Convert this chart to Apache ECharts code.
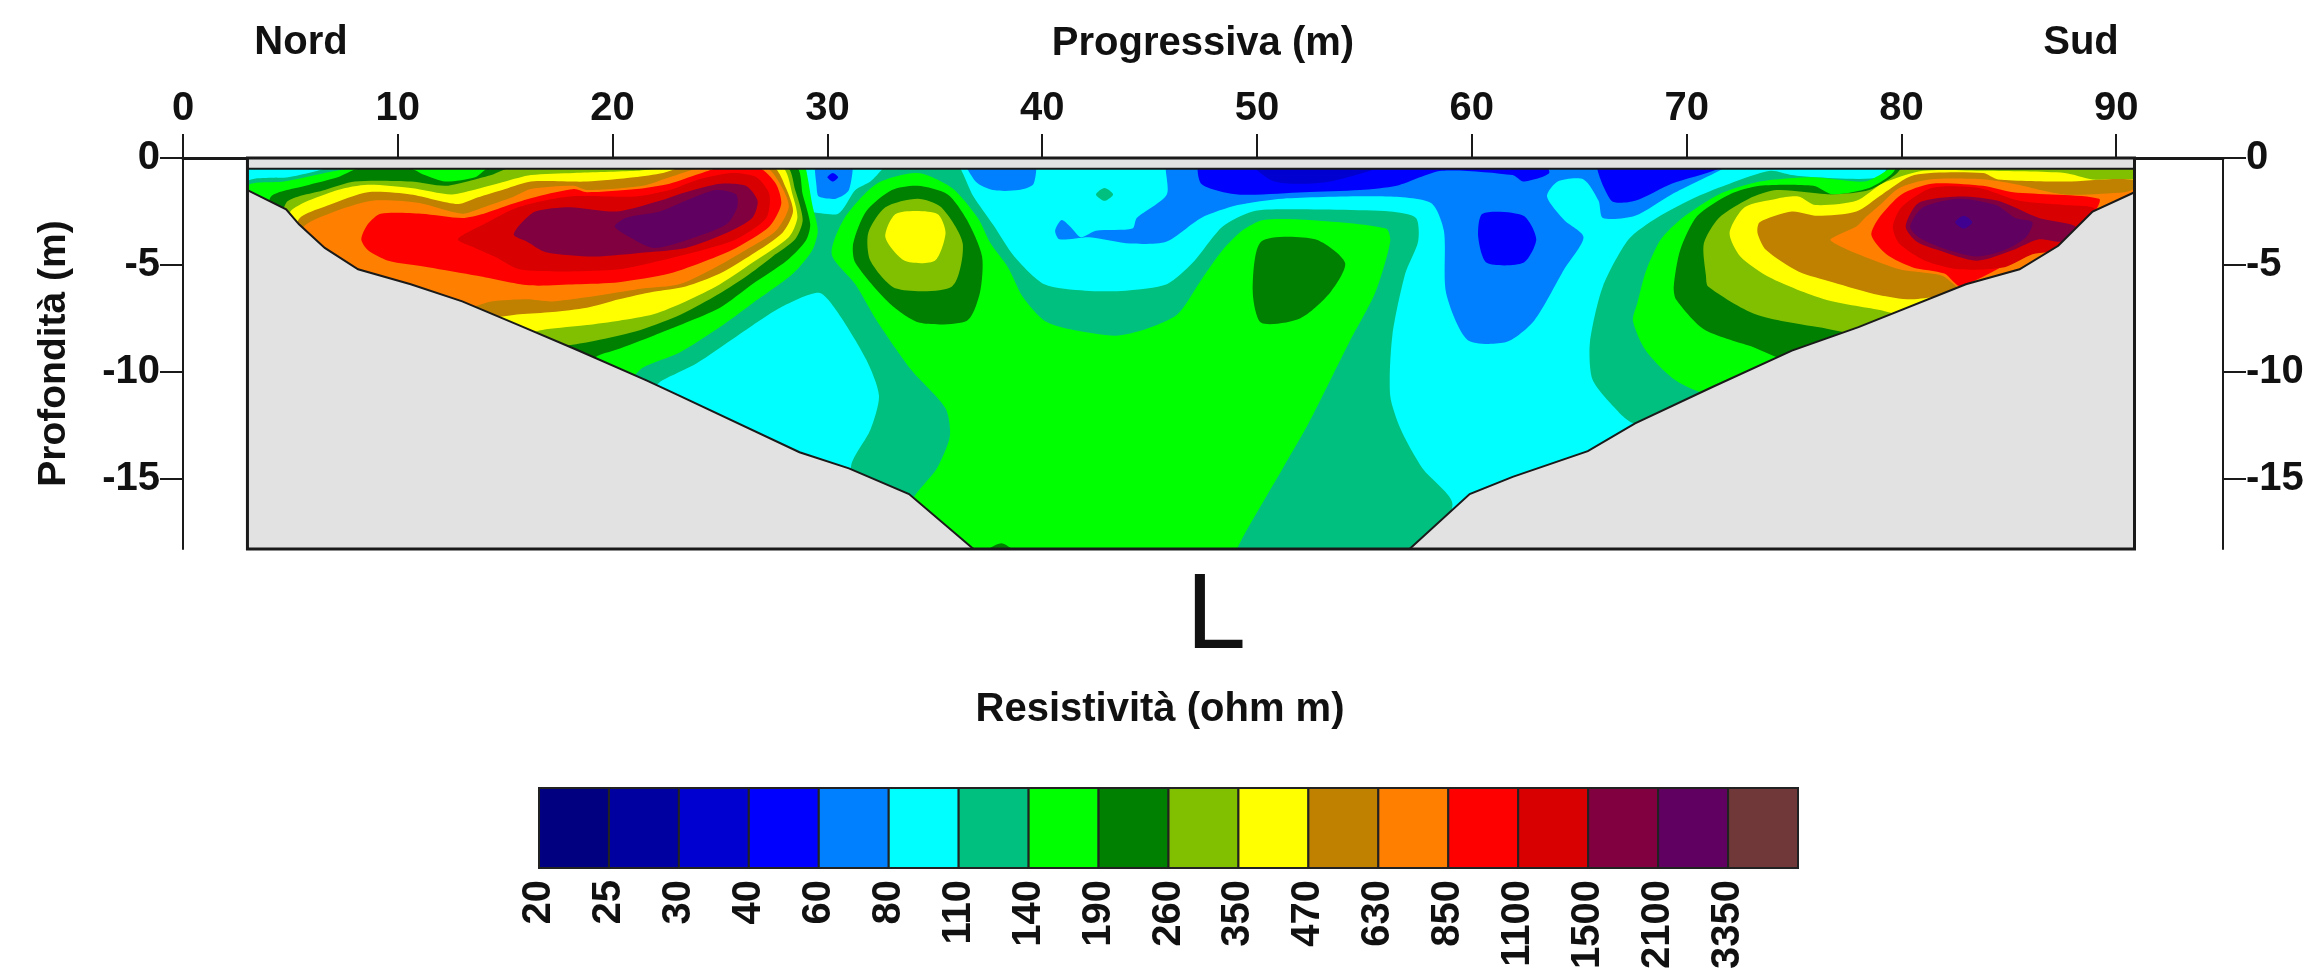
<!DOCTYPE html>
<html><head><meta charset="utf-8">
<style>html,body{margin:0;padding:0;background:#fff}#c{width:2315px;height:972px}</style>
<script src="https://cdn.jsdelivr.net/npm/echarts@6/dist/echarts.min.js"></script>
</head><body><div id="c"></div>
<script>
// ---------- axis ticks ----------
const xTicks = [0,10,20,30,40,50,60,70,80,90];
const yTicks = [0,-5,-10,-15];
// ---------- colour scale ----------
const scaleLabels = ['20','25','30','40','60','80','110','140','190','260','350','470','630','850','1100','1500','2100','3350'];
const scaleColors = ['#000080','#0000a0','#0000d0','#0000ff','#0080ff','#00ffff','#00c080','#00ff00','#008000','#80c000','#ffff00','#c08000','#ff8000','#ff0000','#d80000','#800040','#600060','#703838'];
const CYAN=5,TEAL=6,GREEN=7,DGREEN=8,OLIVE=9,YELLOW=10,GOLD=11,ORANGE=12,RED=13,DRED=14,MAROON=15,PURPLE=16,BLUE=4,DBLUE=3,DDBLUE=2;
// ---------- section extent (m) ----------
const sectionX = [3,90.85];
const sectionTop = -0.5;
const sectionBottom = -18.27;
// ---------- terrain (progressive m, depth m) ----------
const terrainLeft = [[3,-1.5],[4.8,-2.4],[5.4,-3.1],[6.6,-4.2],[8.15,-5.2],[10.6,-5.9],[13,-6.7],[15.6,-7.8],[18.3,-8.95],[21.6,-10.4],[23.1,-11.1],[28.7,-13.75],[31,-14.5],[33.8,-15.7],[36.8,-18.27]];
const terrainRight = [[57.1,-18.27],[59.9,-15.7],[61.9,-14.9],[65.4,-13.7],[67.6,-12.4],[71.2,-10.7],[74.9,-9],[78,-7.9],[83,-5.9],[85.5,-5.2],[87.3,-4.1],[88.9,-2.5],[90.85,-1.6]];
// ---------- contour outlines (progressive m, depth m) ----------
const blueSpotLeft = [[29.5,0],[31.1,0],[31,-1.5],[30.4,-1.9],[29.6,-1.8],[29.5,-1.4]];
const blueDotLeft = [[30,-0.9],[30.25,-0.7],[30.5,-0.9],[30.25,-1.1]];
const bluePatchTop = [[36.4,0],[39.6,0],[39.6,-1.2],[38.9,-1.5],[37.7,-1.5],[36.9,-1.1]];
const bluePatchMain = [[45.9,0],[45.8,-1.7],[44.4,-2.8],[44.2,-3.3],[42.5,-3.4],[41.8,-3.7],[41.3,-3.2],[40.9,-2.9],[40.6,-3.4],[40.8,-3.8],[42.2,-3.7],[44.1,-4],[45.8,-3.9],[47.4,-2.8],[49.1,-2.2],[51.2,-1.9],[56,-1.8],[58.1,-2.1],[58.7,-3.4],[58.8,-6.3],[59.8,-8.5],[61.6,-8.6],[62.9,-7.6],[64.3,-5.2],[65.2,-3.7],[64.3,-2.9],[63.5,-1.8],[64,-1.1],[65.2,-1],[65.9,-2],[66.1,-2.8],[67.6,-2.7],[69.3,-1.7],[71.7,-0.5],[72.5,0]];
const deepBlueTop = [[47.4,0],[47.4,-1.2],[49.1,-1.7],[52.2,-1.6],[54.8,-1.5],[56.5,-1.3],[58.6,-0.6],[61.9,-0.8],[62.4,-1.1],[63.6,-0.7],[63.1,0]];
const deepBlueRight = [[65.9,0],[66.5,-2],[67.6,-2],[69.3,-1.2],[71.5,-0.5],[72,0]];
const deeperBlueTop = [[49.6,0],[50.8,-1.1],[53.4,-1.1],[56.7,0]];
const deepBlueBlob = [[60.5,-2.6],[62.4,-2.7],[63,-3.8],[62.4,-4.9],[60.7,-4.9],[60.3,-3.7]];

const tealCorner = [[3,-1.1],[4.9,-0.9],[6.6,-0.5],[8,0],[12,0],[6,-3],[3,-3]];
const tealMain = [[33.2,0],[35.8,0],[36.8,-1.8],[37.7,-3.1],[38.7,-4.6],[40.1,-5.9],[42,-6.2],[43.9,-6.2],[45.8,-5.9],[47,-4.9],[48.4,-3.2],[49.8,-2.5],[51.2,-2.4],[56.2,-2.5],[57.4,-2.8],[57.5,-3.9],[56.9,-5.4],[56.3,-8.3],[56.2,-11.1],[56.7,-12.7],[57.7,-14.5],[59.1,-16.2],[57.4,-19],[31,-19],[31.1,-14.4],[32,-12.7],[32.4,-11.1],[31.8,-9.4],[30.4,-7.1],[29.6,-6.3],[27.8,-7],[25.75,-8.35],[23.9,-9.6],[22.3,-10.4],[21.5,-11],[17.4,-9.7],[28.8,-2.6],[30.5,-2.6],[31.3,-1.5],[32,-1.1]];
const tealRight = [[68.6,-2.8],[70.5,-1.8],[72,-1.2],[73.9,-0.6],[74.9,-0.8],[75.9,-0.9],[79,-0.9],[79.7,0],[93,0],[93,-10],[71.2,-11.5],[67.6,-12.4],[66.4,-11.4],[65.6,-10.3],[65.5,-8.6],[66.1,-6],[67.3,-3.8]];
const greenCentre = [[34.2,-0.7],[35.8,-1.4],[37,-2.8],[37.6,-4],[38.4,-5.1],[39.1,-6.5],[40.1,-7.6],[41.3,-8],[43.4,-8.3],[44.8,-8],[46.3,-7.3],[47.4,-5.7],[48.4,-4.3],[49.3,-3.4],[50.3,-2.9],[52.4,-2.9],[56,-3.3],[56.2,-3.9],[55.5,-6.3],[54.3,-8.6],[52.4,-12.4],[51.2,-14.5],[49.1,-18.2],[49,-19],[36.8,-19],[33.9,-16.3],[35.1,-14.5],[35.7,-13],[35.5,-11.7],[33.9,-9.9],[32.3,-7.6],[31.3,-5.9],[30.2,-4.5],[30.8,-2.8],[32.3,-1.2]];
const dgreenCentre = [[34.2,-1.3],[35.6,-1.7],[36.5,-2.9],[37.2,-4.6],[37.1,-6.3],[36.5,-7.6],[34.3,-7.7],[32.9,-6.8],[31.3,-4.9],[31.2,-4],[31.8,-2.5],[33,-1.5]];
const oliveCentre = [[34.2,-1.9],[35.3,-2.3],[36.3,-4],[35.8,-6],[33.2,-6.1],[32,-4.8],[31.9,-3.5],[32.7,-2.3]];
const yellowCentre = [[33.2,-2.6],[35.1,-2.6],[35.5,-3.5],[35,-4.8],[33.6,-4.8],[32.7,-3.7]];
const dgreenBlob = [[50.2,-3.9],[52.7,-3.8],[54.1,-4.9],[53.4,-6.3],[52,-7.5],[50.2,-7.7],[49.8,-6.2]];
const dgreenBottom = [[37.2,-18.5],[38.1,-18],[38.8,-18.5]];
const tealDot = [[42.5,-1.7],[42.9,-1.4],[43.3,-1.7],[42.9,-2]];

const greenL = [[3,-1.3],[4.7,-1.1],[6.6,-0.7],[8,-0.4],[8.5,0],[28.8,0],[29,-0.5],[29.3,-2.2],[29.55,-3.4],[29.3,-4.3],[28.4,-5.4],[26.5,-6.8],[25,-7.9],[23.1,-9.1],[21.4,-9.8],[20,-11],[3,-3]];
const dgreenL = [[4.1,-1.8],[5.7,-1.3],[7.2,-0.9],[8.15,-0.5],[10.6,-0.5],[11.25,-0.8],[12.2,-1.1],[13.6,-0.9],[14.35,-0.4],[28.5,-0.4],[28.85,-1.7],[29.2,-3.1],[29,-3.85],[28.1,-4.8],[26.5,-5.9],[25,-7],[23.4,-7.7],[21.9,-8.3],[20.2,-8.95],[19.4,-9.2],[18.5,-9.6],[4.1,-3]];
const oliveL = [[4.8,-2.1],[6.6,-1.5],[8,-1.1],[10.6,-1.1],[12.2,-1.3],[13.6,-1],[14.35,-0.8],[15.3,-0.45],[28.07,-0.4],[28.5,-1.5],[28.85,-2.9],[28.5,-3.8],[27.45,-4.6],[26.2,-5.55],[24.7,-6.5],[23,-7.4],[21.1,-8.1],[18.9,-8.6],[17.7,-8.8],[17,-9],[4.8,-4]];
const yellowL = [[5,-2.5],[7.2,-1.5],[8.6,-1.25],[10.6,-1.4],[12.5,-1.7],[13.7,-1.45],[15,-1.1],[16.2,-0.8],[18.2,-0.7],[21.1,-0.6],[22.65,-0.45],[27.85,-0.4],[28.4,-1.8],[28.6,-2.8],[28.2,-3.7],[26.5,-4.9],[25,-5.9],[23.4,-6.7],[21.9,-7.3],[20.3,-7.6],[18.8,-7.8],[16.9,-8],[15.6,-8.2],[5,-4]];
const goldL = [[5.4,-2.85],[6.8,-2.2],[8.6,-1.6],[10.6,-1.7],[12.8,-2.15],[13.7,-1.85],[15,-1.45],[16.2,-1.1],[18.8,-1.1],[21,-0.9],[22.35,-0.7],[23.4,-0.4],[27.45,-0.4],[28.07,-1.4],[28.4,-2.5],[27.9,-3.5],[26.5,-4.5],[25,-5.4],[23.4,-6],[21.9,-6.25],[20.3,-6.6],[18.8,-7],[17.2,-7.2],[15.67,-7.3],[14,-7.4],[5.4,-4]];
const orangeL = [[5.6,-3.25],[6.8,-2.6],[8.8,-2],[11,-2.1],[13,-2.6],[14,-2.3],[15.3,-1.85],[16.2,-1.45],[18.2,-1.3],[18.8,-1.5],[21.4,-1.3],[22.65,-0.9],[24,-0.5],[27.15,-0.45],[27.9,-1.4],[28.2,-2.3],[27.6,-3.4],[26.2,-4.3],[24.8,-5.1],[23.1,-5.9],[21.4,-6.1],[19.5,-6.4],[17.2,-6.7],[16,-6.6],[14.35,-6.7],[13,-7],[6,-4.5]];
const redL = [[8.3,-3.8],[8.6,-3.1],[9.2,-2.6],[11.1,-2.6],[13,-2.8],[14,-2.6],[15.3,-2.15],[16.5,-1.8],[18.2,-1.45],[18.8,-1.6],[21.1,-1.45],[22.65,-1.2],[24,-0.75],[25,-0.45],[26.8,-0.45],[27.6,-1.2],[27.85,-2.15],[27.3,-3.2],[25.75,-4.2],[24.35,-4.8],[22.65,-5.4],[20.3,-5.8],[18.3,-5.9],[16.1,-5.95],[13.7,-5.5],[11.4,-5.1],[9.55,-4.8],[8.6,-4.3]];
const dredL = [[12.8,-3.8],[14,-3.1],[15.6,-2.3],[18,-1.8],[21.1,-1.8],[22.65,-1.5],[24,-1],[25.6,-0.7],[26.7,-0.9],[27.3,-1.7],[27.15,-2.8],[25.75,-3.8],[24.2,-4.3],[22.2,-4.8],[20.3,-5.2],[18,-5.3],[15.67,-5.2],[14.5,-4.6],[13.6,-4.2]];
const maroonL = [[15.4,-3.6],[15.7,-3.1],[16.4,-2.5],[18,-2.3],[20.2,-2.5],[22.2,-2],[23.4,-1.6],[25,-1.2],[26.2,-1.3],[26.75,-2],[26.5,-2.8],[25.3,-3.5],[23.4,-4.2],[21.6,-4.4],[19.1,-4.6],[16.9,-4.4],[16,-3.9]];
const purpleL = [[20.1,-3.2],[20.6,-2.8],[22.2,-2.5],[23.4,-2],[24.8,-1.5],[25.75,-1.7],[25.8,-2.3],[25.3,-3.1],[23.4,-3.85],[21.9,-4.2],[20.8,-3.7]];

const greenR = [[67.7,-6.8],[68.1,-5.3],[68.8,-3.8],[69.8,-2.8],[71.5,-1.7],[73.4,-1.1],[75.9,-0.9],[78.3,-1.1],[79.3,-0.6],[80,0],[93,0],[93,-5],[71.2,-11],[69.5,-10.4],[68.1,-9],[67.5,-7.6]];
const dgreenR = [[69.4,-6],[69.7,-4.3],[70.5,-2.7],[72,-1.7],[73.4,-1.3],[75.9,-1.3],[76.8,-1.7],[78.5,-1.4],[79.5,-0.8],[80.2,0],[93,0],[93,-3],[74.9,-9.4],[73,-8.8],[70.8,-8],[69.5,-6.6]];
const oliveR = [[70.9,-5.5],[70.8,-4],[71.5,-2.8],[72.9,-1.9],[74.2,-1.5],[76.8,-1.7],[78.5,-1.5],[79.7,-0.8],[80.5,0],[93,0],[93,-3],[78.8,-8.2],[76.1,-7.9],[73.2,-7.3],[71,-6]];
const yellowR = [[72,-3.5],[72.7,-2.3],[74.2,-1.9],[75.2,-1.8],[76,-2.2],[77.9,-2],[79.1,-1.2],[81,-0.6],[83.9,-0.6],[87.6,-0.7],[88.9,-1],[91.2,-1.1],[93,-3],[80.2,-7.3],[79,-7.1],[76.4,-6.6],[73.9,-5.6],[72.5,-4.6]];
const goldR = [[73.3,-3.5],[73.4,-3],[74.9,-2.5],[76.1,-2.7],[77.9,-2.5],[79.1,-1.7],[80.6,-0.8],[83.8,-0.7],[84.5,-1],[87.6,-1.1],[91.2,-1.1],[93,-3],[83,-6.2],[80.5,-6.6],[78.95,-6.4],[76.8,-5.8],[75.2,-5.3],[73.7,-4.3]];
const orangeR = [[76.7,-3.8],[77.9,-3.2],[78.3,-2.8],[79,-2.2],[79.9,-1.4],[81.3,-1],[83.9,-1],[85.2,-1.2],[87.6,-1.7],[90.4,-1.6],[91.2,-1.4],[93,-3],[83,-6.2],[81.9,-5.5],[79.9,-5.2],[78,-4.5],[77.1,-4.1]];
const redR = [[78.6,-3.6],[78.95,-2.8],[80,-1.7],[81.4,-1.2],[83.8,-1.3],[85.2,-1.6],[89.2,-1.9],[88.9,-2.6],[82.8,-6],[82,-5.4],[80.5,-5.1],[79.3,-4.5]];
const dredR = [[79.6,-3.2],[80,-2.3],[81.4,-1.4],[83.6,-1.4],[85.5,-2],[87.6,-2.2],[89,-2.4],[87.6,-4.2],[86.1,-4.5],[84.8,-5.1],[82.7,-5.2],[81.1,-4.8],[79.9,-4]];
const maroonR = [[80.2,-3.2],[80.8,-2.1],[82.7,-1.8],[84.5,-2],[86.4,-2.8],[88.1,-3.2],[87.5,-3.9],[86.4,-3.8],[85.2,-4.3],[83.5,-4.8],[81.7,-4.3],[80.7,-3.9]];
const purpleR = [[80.4,-3.2],[81,-2.3],[82.7,-1.9],[84.4,-2.2],[85.3,-2.8],[86.1,-3],[85.8,-3.7],[84.8,-4.3],[83.5,-4.6],[81.9,-4.2],[80.8,-3.7]];
const coreR = [[82.5,-3],[82.9,-2.7],[83.3,-3],[82.9,-3.3]];
const coreColor = '#400090';

const baseRect = [[sectionX[0],0],[sectionX[1],0],[sectionX[1],sectionBottom],[sectionX[0],sectionBottom]];

// painter's order: every layer is [scale index, outline]
const layers = [
 [CYAN,baseRect],
 [BLUE,blueSpotLeft],[DBLUE,blueDotLeft],[BLUE,bluePatchTop],[BLUE,bluePatchMain],
 [DBLUE,deepBlueTop],[DBLUE,deepBlueRight],[DDBLUE,deeperBlueTop],[DBLUE,deepBlueBlob],
 [TEAL,tealCorner],[TEAL,tealMain],[TEAL,tealRight],[TEAL,tealDot],
 [GREEN,greenCentre],[DGREEN,dgreenCentre],[OLIVE,oliveCentre],[YELLOW,yellowCentre],[DGREEN,dgreenBlob],[DGREEN,dgreenBottom],
 [GREEN,greenL],[DGREEN,dgreenL],[OLIVE,oliveL],[YELLOW,yellowL],[GOLD,goldL],[ORANGE,orangeL],[RED,redL],[DRED,dredL],[MAROON,maroonL],[PURPLE,purpleL],
 [GREEN,greenR],[DGREEN,dgreenR],[OLIVE,oliveR],[YELLOW,yellowR],[GOLD,goldR],[ORANGE,orangeR],[RED,redR],[DRED,dredR],[MAROON,maroonR],[PURPLE,purpleR],[coreColor,coreR]
];

const FONT = '"Liberation Sans", Arial, sans-serif';
const txt = (size,weight) => ({fontFamily:FONT,fontSize:size,fontWeight:weight||'bold',color:'#111'});
const INK = '#1a1a1a', GREY = '#e2e2e2';

function sectionClip(api){
  const a = api.coord([sectionX[0],sectionTop]), b = api.coord([sectionX[1],sectionBottom]);
  return {type:'rect',shape:{x:a[0],y:a[1],width:b[0]-a[0],height:b[1]-a[1]}};
}
function renderContour(params,api){
  const l = layers[params.dataIndex];
  return {type:'polygon',silent:true,clipPath:sectionClip(api),
    shape:{points:l[1].map(p=>api.coord(p)),smooth:l[1]===baseRect?0:0.25},
    style:{fill:typeof l[0]==='string'?l[0]:scaleColors[l[0]]}};
}
function renderFrame(params,api){
  const c = p=>api.coord(p), L=sectionX[0], R=sectionX[1];
  const lp = [[L,sectionBottom]].concat(terrainLeft).map(c);
  const rp = terrainRight.concat([[R,sectionBottom]]).map(c);
  const band = [[L,0],[R,0],[R,sectionTop],[L,sectionTop]].map(c);
  const frame = [[L,0],[R,0],[R,sectionBottom],[L,sectionBottom]].map(c);
  const st = {fill:GREY,stroke:INK,lineWidth:2};
  return {type:'group',silent:true,children:[
    {type:'polygon',shape:{points:lp},style:{fill:GREY}},
    {type:'polygon',shape:{points:rp},style:{fill:GREY}},
    {type:'polyline',shape:{points:terrainLeft.map(c)},style:{fill:'none',stroke:INK,lineWidth:2}},
    {type:'polyline',shape:{points:terrainRight.map(c)},style:{fill:'none',stroke:INK,lineWidth:2}},
    {type:'polygon',shape:{points:band},style:st},
    {type:'polygon',shape:{points:frame},style:{fill:'none',stroke:INK,lineWidth:3}}
  ]};
}
function renderScale(params,api){
  const i = params.dataIndex, a = api.coord([i,1]), b = api.coord([i+1,0]);
  return {type:'rect',silent:true,shape:{x:a[0],y:a[1],width:b[0]-a[0],height:b[1]-a[1]},
    style:{fill:scaleColors[i],stroke:'#222',lineWidth:2}};
}
const depthAxisBase = {type:'value',min:sectionBottom,max:0,splitLine:{show:false},
  axisLine:{show:true,onZero:false,lineStyle:{color:INK,width:2}},
  axisTick:{show:true,length:23,customValues:yTicks,lineStyle:{color:INK,width:2}},
  axisLabel:{customValues:yTicks,margin:23,showMinLabel:true,showMaxLabel:true,...txt(40)}};

const chart = echarts.init(document.getElementById('c'),null,{renderer:'canvas',width:2315,height:972});
chart.setOption({
  animation:false,backgroundColor:'#fff',
  title:[
    {text:'Nord',left:296,top:18,textAlign:'center',textStyle:txt(40)},
    {text:'Sud',left:2076,top:18,textAlign:'center',textStyle:txt(40)},
    {text:'L',left:1211,top:559,textAlign:'center',textStyle:txt(108,'normal')},
    {text:'Resistività (ohm m)',left:1155,top:685,textAlign:'center',textStyle:txt(40)}
  ],
  grid:[{left:183,top:158,width:2040,height:391},{left:539,top:788,width:1259,height:80}],
  xAxis:[
    {type:'value',position:'top',min:0,max:94.97,splitLine:{show:false},
     name:'Progressiva (m)',nameLocation:'middle',nameGap:94,nameTextStyle:txt(40),
     axisLine:{show:true,onZero:false,lineStyle:{color:INK,width:3}},
     axisTick:{show:true,length:24,customValues:xTicks,lineStyle:{color:INK,width:2}},
     axisLabel:{customValues:xTicks,margin:29,...txt(40)}},
    {type:'value',gridIndex:1,position:'bottom',min:0,max:18,splitLine:{show:false},
     axisLine:{show:false},axisTick:{show:false},
     axisLabel:{customValues:scaleLabels.map((_,i)=>i),rotate:90,margin:12,hideOverlap:false,
       formatter:v=>scaleLabels[v],...txt(40)}}
  ],
  yAxis:[
    {...depthAxisBase,position:'left',name:'Profondità (m)',nameLocation:'middle',nameRotate:90,nameGap:109,nameTextStyle:txt(39)},
    {...depthAxisBase,position:'right'},
    {type:'value',gridIndex:1,min:0,max:1,show:false,splitLine:{show:false}}
  ],
  series:[
    {type:'custom',xAxisIndex:0,yAxisIndex:0,renderItem:renderContour,data:layers.map((_,i)=>[i]),clip:false,silent:true,z:2},
    {type:'custom',xAxisIndex:0,yAxisIndex:0,renderItem:renderFrame,data:[[0]],clip:false,silent:true,z:3},
    {type:'custom',xAxisIndex:1,yAxisIndex:2,renderItem:renderScale,data:scaleLabels.map((_,i)=>[i]),clip:false,silent:true,z:2}
  ]
});
</script></body></html>
